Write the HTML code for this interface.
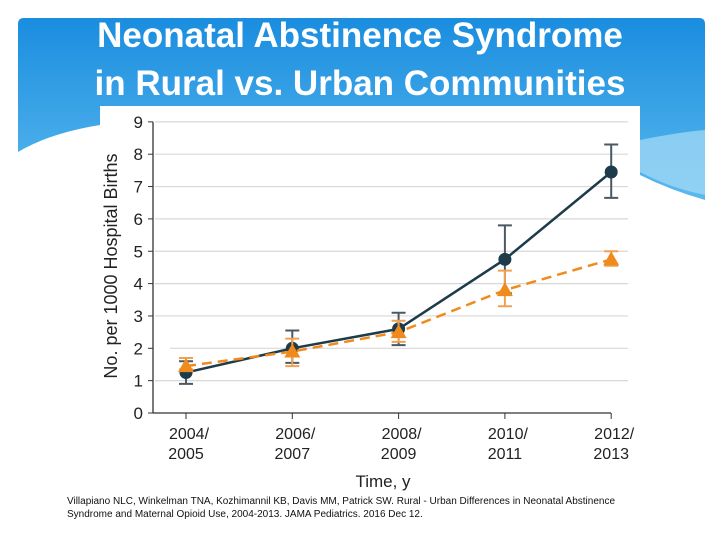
<!DOCTYPE html>
<html><head><meta charset="utf-8"><style>
body{margin:0;width:720px;height:540px;background:#fff;overflow:hidden;font-family:"Liberation Sans",sans-serif;}
svg{position:absolute;left:0;top:0}
</style></head><body>
<svg width="720" height="540">
<defs>
<linearGradient id="bg" x1="0" y1="0" x2="0" y2="1">
<stop offset="0" stop-color="#1a8ddf"/><stop offset="1" stop-color="#5ab9ee"/>
</linearGradient>
</defs>
<g>
<path d="M24,18 H699 Q705,18 705,24 V200 Q670,190 640,175 V106 H100 V125 Q50,133 18,152 V24 Q18,18 24,18 Z" fill="url(#bg)"/>
<path d="M640,140 Q680,132 705,130 V195 Q670,188 640,172 Z" fill="#a8dcf6" opacity="0.7"/>
</g>
<text x="360" y="47" text-anchor="middle" font-size="35" font-weight="bold" fill="#fff">Neonatal Abstinence Syndrome</text>
<text x="360" y="95" text-anchor="middle" font-size="35" font-weight="bold" fill="#fff">in Rural vs. Urban Communities</text>
<rect x="100" y="106" width="540" height="384" fill="#fff"/>
<g id="chart"></g>
<text x="383" y="487" text-anchor="middle" font-size="17" fill="#222">Time, y</text>
<text x="67" y="504" font-size="10" fill="#111">Villapiano NLC, Winkelman TNA, Kozhimannil KB, Davis MM, Patrick SW. Rural - Urban Differences in Neonatal Abstinence</text>
<text x="67" y="517" font-size="10" fill="#111">Syndrome and Maternal Opioid Use, 2004-2013. JAMA Pediatrics.  2016 Dec 12.</text>
</svg>
<script>
const categories=[["2004/","2005"],["2006/","2007"],["2008/","2009"],["2010/","2011"],["2012/","2013"]];
const urbanValues=[1.25,2.0,2.6,4.75,7.45];
const urbanLow=[0.9,1.55,2.1,3.7,6.65];
const urbanHigh=[1.6,2.55,3.1,5.8,8.3];
const ruralValues=[1.45,1.9,2.5,3.8,4.75];
const ruralLow=[1.35,1.45,2.2,3.3,4.55];
const ruralHigh=[1.7,2.3,2.85,4.4,5.0];
const yTicks=[0,1,2,3,4,5,6,7,8,9];
const NS="http://www.w3.org/2000/svg";
const g=document.getElementById('chart');
const X0=186,DX=106.3,Y0=413,DY=32.35;
const xs=i=>X0+i*DX, ys=v=>Y0-v*DY;
function el(t,a,p){const e=document.createElementNS(NS,t);for(const k in a)e.setAttribute(k,a[k]);(p||g).appendChild(e);return e;}
yTicks.forEach(v=>{
 if(v>0){const l=el('line',{x1:v===2?170:155,x2:628,y1:ys(v),y2:ys(v),stroke:'#d8d8d8','stroke-width':1.2});
 
 }
 const tk=el('line',{x1:148,x2:153,y1:ys(v),y2:ys(v),stroke:'#333'});
 
 
 const t=el('text',{x:143,y:ys(v)+6,'text-anchor':'end','font-size':17,fill:'#222'});t.textContent=v;
 
 
});
const ya=el('line',{x1:153,x2:153,y1:ys(9),y2:Y0,stroke:'#333','stroke-width':1.3});


const xa=el('line',{x1:153,x2:611,y1:Y0,y2:Y0,stroke:'#333','stroke-width':1.3});


categories.forEach((c,i)=>{
 const tk=el('line',{x1:xs(i),x2:xs(i),y1:Y0,y2:Y0+6,stroke:'#333'});
 
 
 c.forEach((s,j)=>{const t=el('text',{x:xs(i)+(j?0:3),y:Y0+26+j*20,'text-anchor':'middle','font-size':16,fill:'#222'});t.textContent=s;
 
 });
});
const yt=el('text',{x:0,y:0,'text-anchor':'middle','font-size':18,fill:'#222',transform:'translate(117,266) rotate(-90)'});
yt.textContent='No. per 1000 Hospital Births';


function series(vals,lo,hi,color,errColor,dash,name,tri){
 lo.forEach((l,i)=>{
  const e=el('path',{d:`M${xs(i)-7},${ys(l)}H${xs(i)+7}M${xs(i)},${ys(l)}V${ys(hi[i])}M${xs(i)-7},${ys(hi[i])}H${xs(i)+7}`,stroke:errColor,'stroke-width':2,fill:'none'});
  
  
 });
 const p=el('polyline',{points:vals.map((v,i)=>xs(i)+','+ys(v)).join(' '),stroke:color,'stroke-width':2.5,fill:'none','stroke-dasharray':dash});
 
 
 vals.forEach((v,i)=>{
  const m=tri?el('polygon',{points:`${xs(i)},${ys(v)-8} ${xs(i)-8},${ys(v)+6} ${xs(i)+8},${ys(v)+6}`,fill:color})
            :el('circle',{cx:xs(i),cy:ys(v),r:6.5,fill:color});
  
  
 });
}
series(urbanValues,urbanLow,urbanHigh,'#1d3b4a','#4a5a64','none','urban',false);
series(ruralValues,ruralLow,ruralHigh,'#f08a1c','#f0a050','10 6','rural',true);
</script>
</body></html>
